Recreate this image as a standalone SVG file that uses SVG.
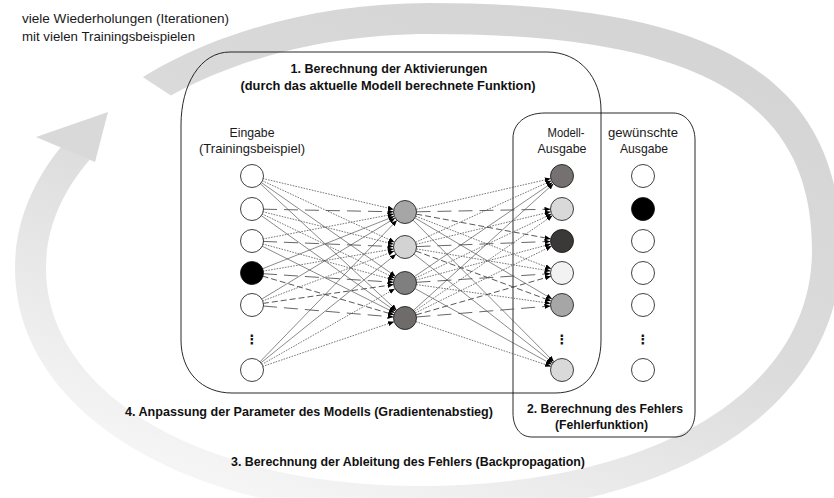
<svg xmlns="http://www.w3.org/2000/svg" width="834" height="498" viewBox="0 0 834 498">
<style>
.t{font-family:"Liberation Sans",Arial,sans-serif;font-size:13px;fill:#1a1a1a}
.b{font-family:"Liberation Sans",Arial,sans-serif;font-size:13px;font-weight:bold;fill:#111}
.c{text-anchor:middle}
.dots{font-family:"DejaVu Sans",sans-serif;font-size:13px;font-weight:bold;text-anchor:middle;fill:#111}
.box{fill:none;stroke:#111;stroke-width:0.9}
.n{stroke:#111;stroke-width:0.8}
#connectors line{marker-end:url(#ah);fill:none}
.s{stroke:#3a3a3a;stroke-width:0.6}
.d{stroke:#555;stroke-width:0.8;stroke-dasharray:1.6 1.2}
.l{stroke:#555;stroke-width:0.9;stroke-dasharray:14 7}
.m{stroke:#444;stroke-width:0.9;stroke-dasharray:6 3}
</style>
<defs>
<marker id="ah" viewBox="0 0 6 5" refX="6" refY="2.5" markerWidth="6" markerHeight="5" markerUnits="userSpaceOnUse" orient="auto"><path d="M0,0 L6,2.5 L0,5 z" fill="#000"/></marker>
<linearGradient id="rg" gradientUnits="userSpaceOnUse" x1="520" y1="0" x2="340" y2="520">
<stop offset="0" stop-color="#d5d5d5"/><stop offset="0.5" stop-color="#dcdcdc"/><stop offset="1" stop-color="#f5f5f5"/>
</linearGradient>
<mask id="gap" maskUnits="userSpaceOnUse" x="-10" y="-10" width="860" height="540">
<rect x="-10" y="-10" width="860" height="540" fill="#fff"/>
<polygon points="631,397 -500,-344 -500,-99" fill="#000"/>
</mask>
</defs>
<rect width="834" height="498" fill="#fff"/>
<g id="cycle-arrow">
<path mask="url(#gap)" fill="url(#rg)" fill-rule="evenodd" d="M430,3 C717.7,3 841,77.1 841,250 C841,409.6 672.6,516 420,516 C185.1,516 15,411.8 15,268 C15,122.25 201.75,3 430,3 Z M430,34 C697.4,34 812,98.8 812,250 C812,391.6 655.2,486 420,486 C203.1,486 46,394.4 46,268 C46,139.3 218.8,34 430,34 Z"/>
<polygon points="36,137 108,112 95,162" fill="#d9d9d9"/>
</g>
<g id="loop-label">
<text class="t" x="22" y="23" textLength="207" lengthAdjust="spacingAndGlyphs">viele Wiederholungen (Iterationen)</text>
<text class="t" x="22" y="41" textLength="173" lengthAdjust="spacingAndGlyphs">mit vielen Trainingsbeispielen</text>
</g>
<g id="box-activation">
<path class="box" d="M230,52 L547,52 C580,52 601,78 601,110 L601,340 C601,372 585,393 555,393 L232,393 C202,393 181,372 181,340 L181,125 C181,85 200,52 230,52 Z"/>
<text class="b c" x="389" y="73" textLength="197" lengthAdjust="spacingAndGlyphs">1. Berechnung der Aktivierungen</text>
<text class="b c" x="388" y="90" textLength="295" lengthAdjust="spacingAndGlyphs">(durch das aktuelle Modell berechnete Funktion)</text>
</g>
<g id="box-error">
<path class="box" d="M545,113 L673,113 C686,113 695,125 695,140 L695,412 C695,427 687,437 675,437 L532,437 C520,437 513,427 513,413 L513,138 C513,124 525,113 545,113 Z"/>
<text class="b c" x="605" y="413" textLength="156" lengthAdjust="spacingAndGlyphs">2. Berechnung des Fehlers</text>
<text class="b c" x="601.5" y="429" textLength="93" lengthAdjust="spacingAndGlyphs">(Fehlerfunktion)</text>
</g>
<g id="step3-label"><text class="b c" x="408" y="466" textLength="354" lengthAdjust="spacingAndGlyphs">3. Berechnung der Ableitung des Fehlers (Backpropagation)</text></g>
<g id="step4-label"><text class="b c" x="309" y="416" textLength="368" lengthAdjust="spacingAndGlyphs">4. Anpassung der Parameter des Modells (Gradientenabstieg)</text></g>
<g id="connectors">
<line class="d" x1="262.7" y1="178.5" x2="393.8" y2="209.4"/>
<line class="d" x1="262.0" y1="180.6" x2="394.6" y2="242.2"/>
<line class="s" x1="261.0" y1="182.3" x2="395.6" y2="276.4"/>
<line class="s" x1="260.1" y1="183.5" x2="396.6" y2="310.2"/>
<line class="l" x1="263" y1="209.2" x2="393.5" y2="211.8"/>
<line class="d" x1="262.7" y1="211.7" x2="393.8" y2="244.2"/>
<line class="d" x1="261.9" y1="213.8" x2="394.6" y2="278.0"/>
<line class="s" x1="261.0" y1="215.4" x2="395.6" y2="311.3"/>
<line class="d" x1="262.8" y1="239.0" x2="393.7" y2="214.1"/>
<line class="l" x1="263" y1="241.4" x2="393.5" y2="246.6"/>
<line class="d" x1="262.6" y1="243.9" x2="393.9" y2="280.0"/>
<line class="s" x1="261.8" y1="246.0" x2="394.7" y2="312.8"/>
<line class="s" x1="262.2" y1="268.9" x2="394.3" y2="216.3"/>
<line class="d" x1="262.8" y1="271.2" x2="393.7" y2="248.9"/>
<line class="l" x1="263" y1="273.7" x2="393.5" y2="282.3"/>
<line class="m" x1="262.5" y1="276.1" x2="394.0" y2="314.8"/>
<line class="s" x1="261.4" y1="299.3" x2="395.2" y2="218.0"/>
<line class="d" x1="262.3" y1="301.1" x2="394.2" y2="251.1"/>
<line class="m" x1="262.9" y1="303.4" x2="393.6" y2="284.6"/>
<line class="l" x1="263" y1="306.0" x2="393.5" y2="317.0"/>
<line class="s" x1="259.7" y1="362.1" x2="397.0" y2="220.3"/>
<line class="s" x1="260.6" y1="363.1" x2="396.0" y2="254.2"/>
<line class="d" x1="261.6" y1="364.6" x2="395.0" y2="288.7"/>
<line class="d" x1="262.4" y1="366.5" x2="394.1" y2="321.7"/>
<line class="d" x1="416.2" y1="209.4" x2="550.8" y2="178.6"/>
<line class="l" x1="416.5" y1="211.8" x2="550.5" y2="209.2"/>
<line class="m" x1="416.3" y1="214.1" x2="550.7" y2="238.9"/>
<line class="d" x1="415.7" y1="216.2" x2="551.3" y2="268.8"/>
<line class="s" x1="414.9" y1="217.9" x2="552.1" y2="299.1"/>
<line class="s" x1="413.1" y1="220.2" x2="553.9" y2="361.8"/>
<line class="d" x1="415.5" y1="242.3" x2="551.5" y2="180.7"/>
<line class="d" x1="416.2" y1="244.3" x2="550.8" y2="211.7"/>
<line class="l" x1="416.5" y1="246.6" x2="550.5" y2="241.4"/>
<line class="d" x1="416.4" y1="248.9" x2="550.6" y2="271.1"/>
<line class="m" x1="415.8" y1="251.0" x2="551.2" y2="301.0"/>
<line class="s" x1="414.1" y1="254.1" x2="552.9" y2="362.9"/>
<line class="s" x1="414.5" y1="276.5" x2="552.5" y2="182.5"/>
<line class="d" x1="415.4" y1="278.1" x2="551.6" y2="213.9"/>
<line class="d" x1="416.1" y1="280.0" x2="550.9" y2="244.0"/>
<line class="l" x1="416.5" y1="282.3" x2="550.5" y2="273.7"/>
<line class="d" x1="416.4" y1="284.6" x2="550.6" y2="303.4"/>
<line class="s" x1="415.1" y1="288.6" x2="551.9" y2="364.4"/>
<line class="s" x1="413.5" y1="310.3" x2="553.5" y2="183.7"/>
<line class="d" x1="414.5" y1="311.4" x2="552.5" y2="215.6"/>
<line class="d" x1="415.3" y1="312.9" x2="551.7" y2="246.1"/>
<line class="m" x1="416.1" y1="314.8" x2="551.0" y2="276.2"/>
<line class="l" x1="416.5" y1="317.0" x2="550.5" y2="306.0"/>
<line class="d" x1="415.9" y1="321.6" x2="551.1" y2="366.4"/>
</g>
<g id="input-layer">
<text class="t c" x="252" y="137" textLength="45" lengthAdjust="spacingAndGlyphs">Eingabe</text>
<text class="t c" x="252" y="153" textLength="106" lengthAdjust="spacingAndGlyphs">(Trainingsbeispiel)</text>
<circle id="in1" class="n" cx="252" cy="176" r="11.5" fill="#fff"/>
<circle id="in2" class="n" cx="252" cy="209" r="11.5" fill="#fff"/>
<circle id="in3" class="n" cx="252" cy="241" r="11.5" fill="#fff"/>
<circle id="in4" class="n" cx="252" cy="273" r="11.5" fill="#000"/>
<circle id="in5" class="n" cx="252" cy="305" r="11.5" fill="#fff"/>
<text class="dots" x="252" y="344">⋮</text>
<circle id="in7" class="n" cx="252" cy="370" r="11.5" fill="#fff"/>
</g>
<g id="hidden-layer">
<circle id="h1" class="n" cx="405" cy="212" r="11.5" fill="#a6a6a6"/>
<circle id="h2" class="n" cx="405" cy="247" r="11.5" fill="#d3d3d3"/>
<circle id="h3" class="n" cx="405" cy="283" r="11.5" fill="#7f7f7f"/>
<circle id="h4" class="n" cx="405" cy="318" r="11.5" fill="#6f6b6b"/>
</g>
<g id="model-output">
<text class="t c" x="566" y="137" textLength="37" lengthAdjust="spacingAndGlyphs">Modell-</text>
<text class="t c" x="562" y="153" textLength="49" lengthAdjust="spacingAndGlyphs">Ausgabe</text>
<circle id="o1" class="n" cx="562" cy="176" r="11.5" fill="#767171"/>
<circle id="o2" class="n" cx="562" cy="209" r="11.5" fill="#d9d9d9"/>
<circle id="o3" class="n" cx="562" cy="241" r="11.5" fill="#3b3838"/>
<circle id="o4" class="n" cx="562" cy="273" r="11.5" fill="#f2f2f2"/>
<circle id="o5" class="n" cx="562" cy="305" r="11.5" fill="#a6a6a6"/>
<text class="dots" x="562" y="344">⋮</text>
<circle id="o7" class="n" cx="562" cy="370" r="11.5" fill="#d9d9d9"/>
</g>
<g id="desired-output">
<text class="t c" x="643" y="137" textLength="70" lengthAdjust="spacingAndGlyphs">gewünschte</text>
<text class="t c" x="644" y="153" textLength="48" lengthAdjust="spacingAndGlyphs">Ausgabe</text>
<circle id="d1" class="n" cx="643" cy="176" r="11.5" fill="#fff"/>
<circle id="d2" class="n" cx="643" cy="209" r="11.5" fill="#000"/>
<circle id="d3" class="n" cx="643" cy="241" r="11.5" fill="#fff"/>
<circle id="d4" class="n" cx="643" cy="273" r="11.5" fill="#fff"/>
<circle id="d5" class="n" cx="643" cy="305" r="11.5" fill="#fff"/>
<text class="dots" x="643" y="344">⋮</text>
<circle id="d7" class="n" cx="643" cy="370" r="11.5" fill="#fff"/>
</g>
</svg>
